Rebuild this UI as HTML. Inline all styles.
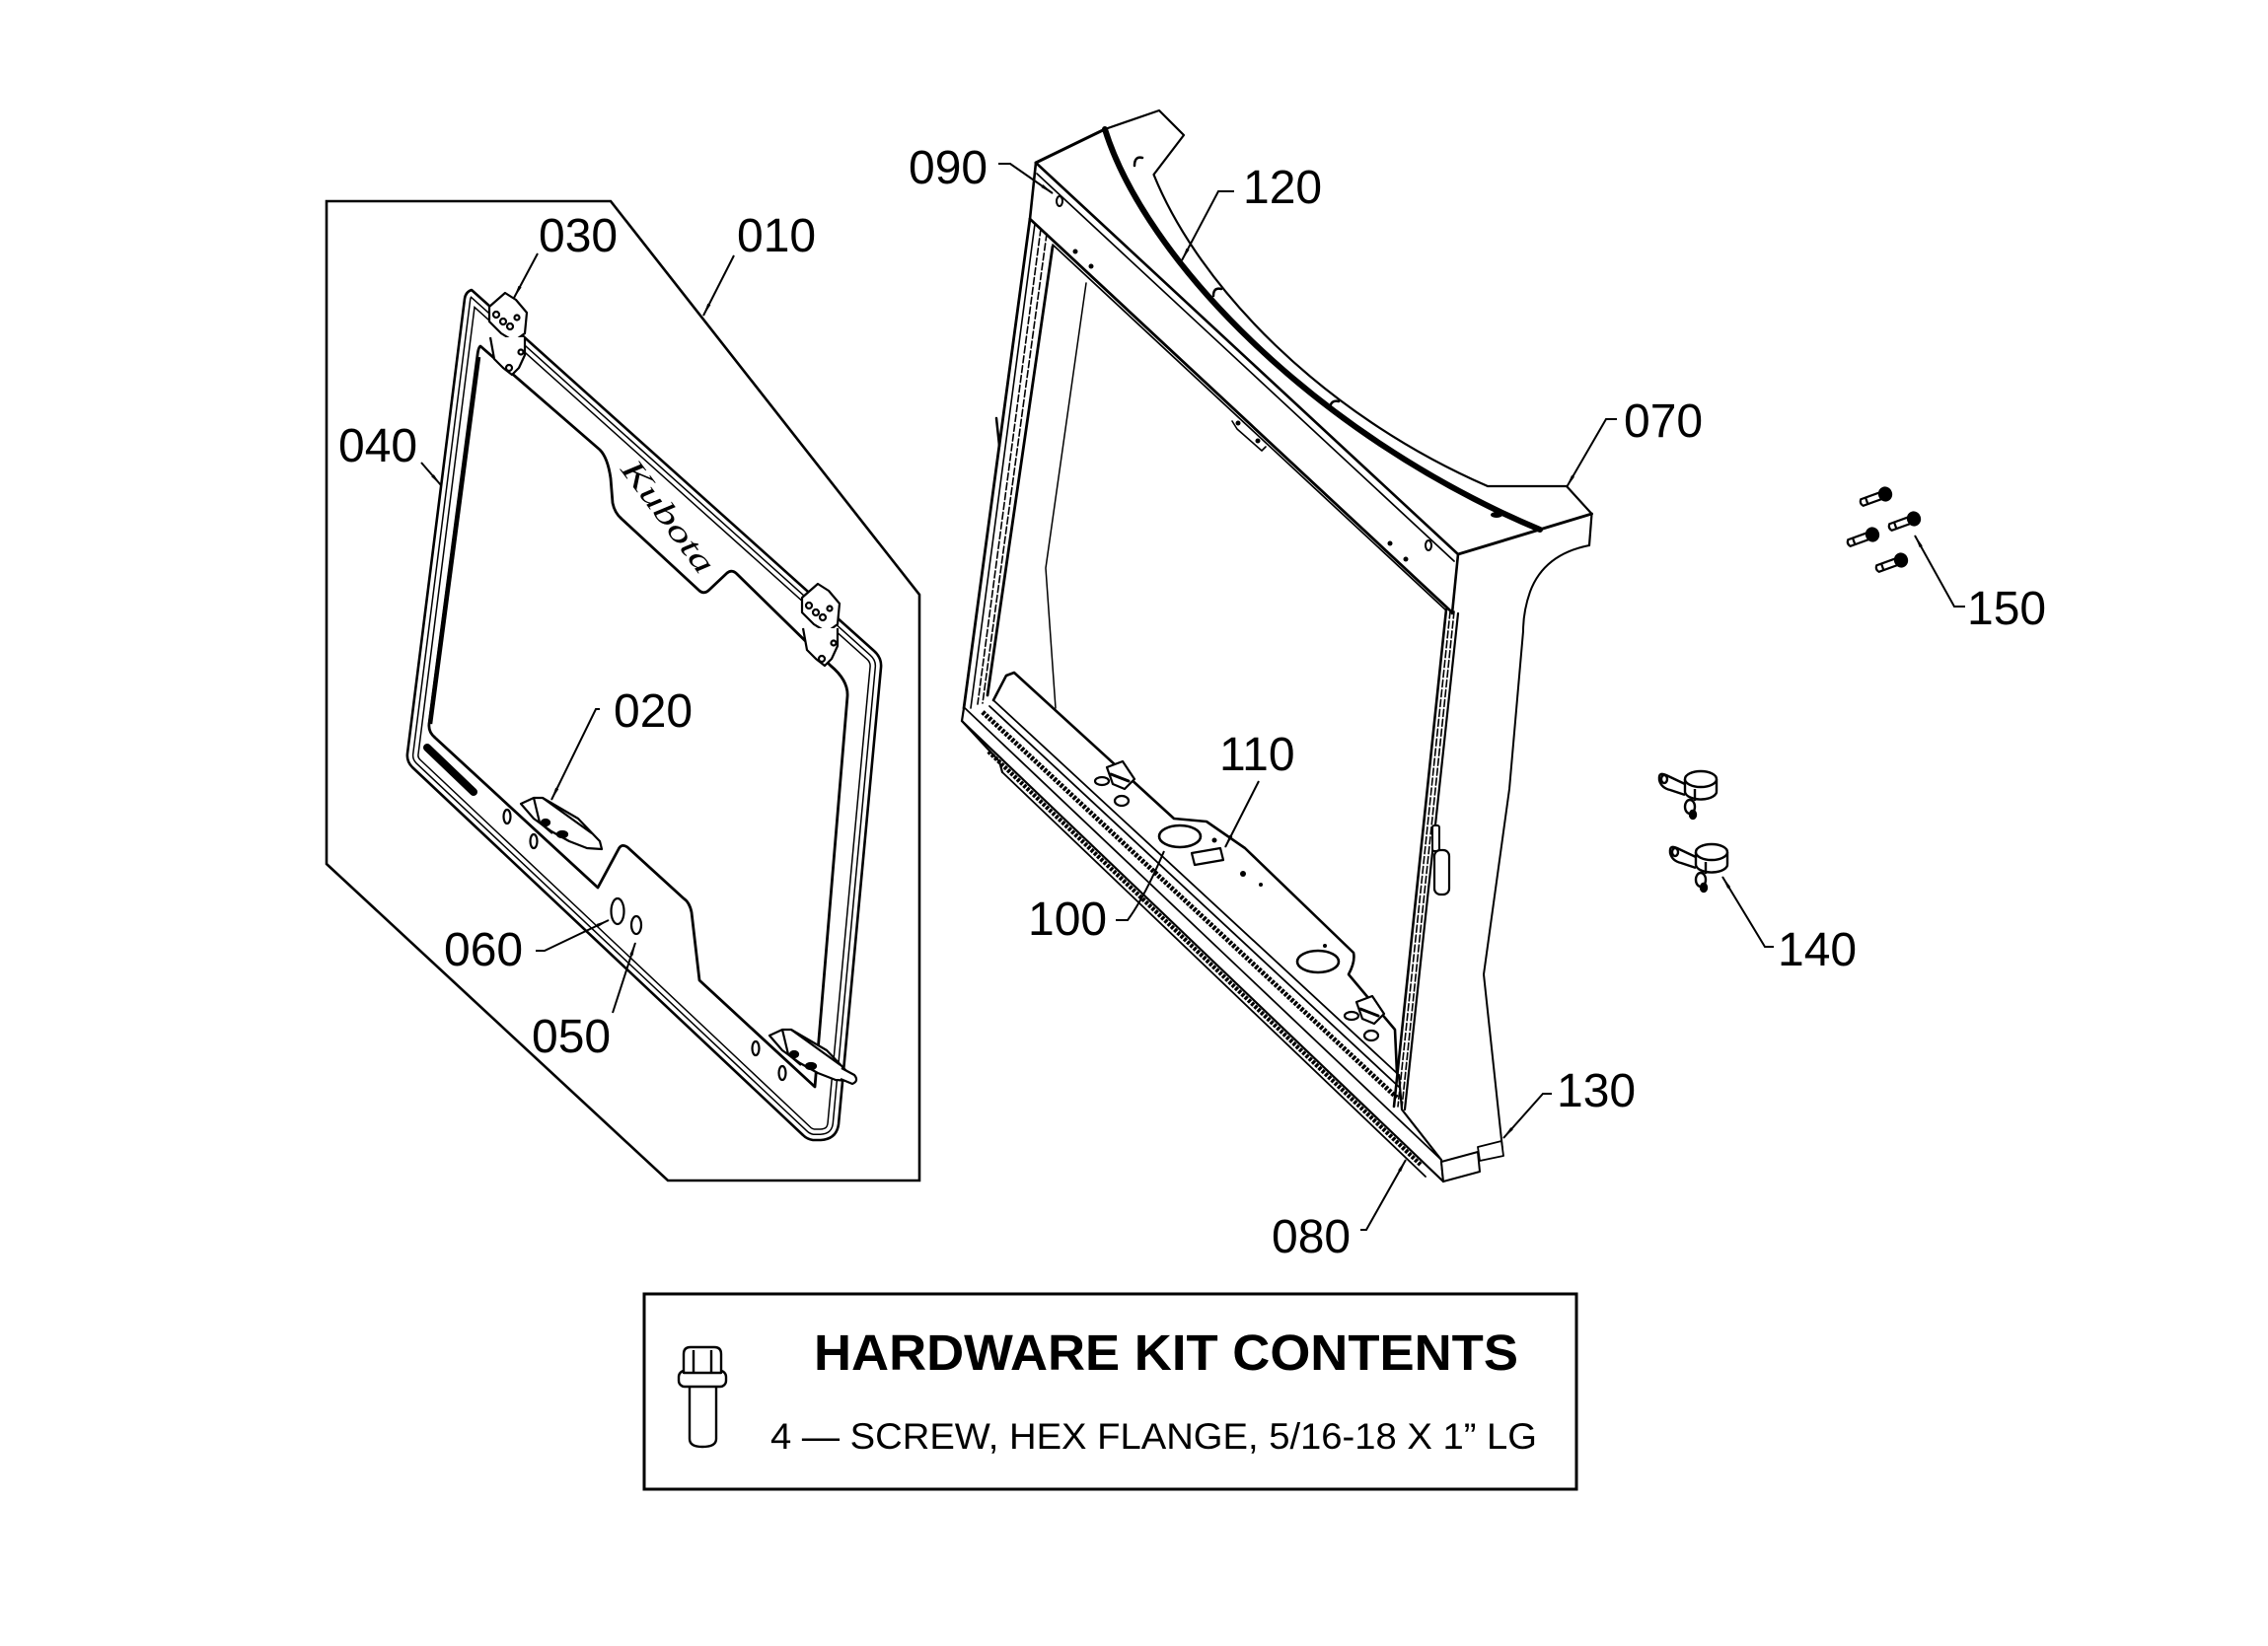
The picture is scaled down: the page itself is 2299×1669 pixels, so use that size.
<!DOCTYPE html>
<html>
<head>
<meta charset="utf-8">
<style>
html,body{margin:0;padding:0;background:#fff;}
svg{display:block;}
text{font-family:"Liberation Sans",Arial,sans-serif;fill:#000;}
</style>
</head>
<body>
<svg width="2299" height="1669" viewBox="0 0 2299 1669" xmlns="http://www.w3.org/2000/svg">
<defs>
<marker id="ar" markerWidth="14" markerHeight="7" refX="13" refY="3.5" orient="auto" markerUnits="userSpaceOnUse">
<path d="M0,1.8 L14,3.5 L0,5.2 Z" fill="#000"/>
</marker>
<clipPath id="fc">
<path d="M478,294 L886,660 Q894,667 893,677 L850,1140 Q848,1155 832,1156 L824,1156 Q818,1155 814,1151 L418,778 Q412,772 413,764 L471,303 Q472,296 478,294 Z"/>
</clipPath>
<g id="hinge">
<path d="M496,311 L512,297 L523,304 L534,317 L532,338 L521,346 L508,338 L496,326 Z" fill="#fff"/>
<circle cx="503" cy="319" r="3"/><circle cx="510" cy="326" r="3"/><circle cx="517" cy="331" r="3"/><circle cx="524" cy="322" r="2.5"/>
<path d="M497,342 L501,364 L510,373 L519,380 L526,373 L532,360 L532,342" fill="#fff"/>
<circle cx="516" cy="373" r="3"/><circle cx="528" cy="357" r="2.5"/>
</g>
<g id="latch">
<path d="M528,815 L541,809 L550,809 L586,830 L608,853 L610,861 L595,860 L577,853 L559,843 L541,830 Z" fill="#fff"/>
<path d="M541,809 L547,834 L560,845 M550,809 L600,845"/>
<ellipse cx="553" cy="834" rx="4" ry="3" fill="#000"/>
<ellipse cx="570" cy="846" rx="5" ry="3" fill="#000"/>
<ellipse cx="514" cy="828" rx="3.5" ry="7"/>
<ellipse cx="541" cy="853" rx="3.5" ry="7"/>
</g>
<g id="screw">
<path d="M-25,-3.5 L-5,-3.5 L-5,3.5 L-25,3.5 Q-28,0 -25,-3.5 Z" fill="#fff"/>
<path d="M-20,-3.5 L-20,3.5"/>
<ellipse cx="0" cy="0" rx="6" ry="6.5" fill="#000"/>
</g>
<g id="clamp">
<path d="M1708,795 L1689,786 Q1681,782 1682,791 Q1684,799 1693,801 L1708,806" fill="#fff"/>
<ellipse cx="1687" cy="790" rx="3" ry="4"/>
<path d="M1708,790 L1708,803 A16,8 0 0,0 1740,802 L1740,790"/>
<ellipse cx="1724" cy="790" rx="16" ry="8" fill="#fff"/>
<path d="M1718,800 L1718,812"/>
<ellipse cx="1713" cy="818" rx="5" ry="7" fill="#fff"/>
<ellipse cx="1716" cy="826" rx="3" ry="4" fill="#000"/>
</g>
</defs>

<rect x="0" y="0" width="2299" height="1669" fill="#fff"/>

<!-- ===== LEFT PANEL (010) ===== -->
<path d="M331,204 L619,204 L932,603 L932,1197 L677,1197 L331,876 Z" fill="none" stroke="#000" stroke-width="2.6"/>

<g clip-path="url(#fc)" fill="none" stroke-linejoin="round">
<path d="M478,294 L886,660 Q894,667 893,677 L850,1140 Q848,1155 832,1156 L824,1156 Q818,1155 814,1151 L418,778 Q412,772 413,764 L471,303 Q472,296 478,294 Z" stroke="#000" stroke-width="23.5"/>
<path d="M478,294 L886,660 Q894,667 893,677 L850,1140 Q848,1155 832,1156 L824,1156 Q818,1155 814,1151 L418,778 Q412,772 413,764 L471,303 Q472,296 478,294 Z" stroke="#fff" stroke-width="20.5"/>
<path d="M478,294 L886,660 Q894,667 893,677 L850,1140 Q848,1155 832,1156 L824,1156 Q818,1155 814,1151 L418,778 Q412,772 413,764 L471,303 Q472,296 478,294 Z" stroke="#000" stroke-width="13"/>
<path d="M478,294 L886,660 Q894,667 893,677 L850,1140 Q848,1155 832,1156 L824,1156 Q818,1155 814,1151 L418,778 Q412,772 413,764 L471,303 Q472,296 478,294 Z" stroke="#fff" stroke-width="10"/>
</g>
<path d="M478,294 L886,660 Q894,667 893,677 L850,1140 Q848,1155 832,1156 L824,1156 Q818,1155 814,1151 L418,778 Q412,772 413,764 L471,303 Q472,296 478,294 Z" fill="none" stroke="#000" stroke-width="2.6" stroke-linejoin="round"/>

<path d="M487,351 L608,456 Q616,464 619,485 L621,510 Q623,520 630,526 L709,599 Q714,603 719,598 L737,581 Q742,577 747,582 L842,675 Q860,690 859,706 L826,1102 L709,994 L701,925 Q699,915 693,911 L636,859 Q630,855 627,861 L606,900 L441,748 Q434,742 435,734 L484,360 Q485,352 487,351 Z" fill="#fff" stroke="#000" stroke-width="2.8" stroke-linejoin="round"/>
<path d="M485,362 L436,734" stroke="#000" stroke-width="4.5" fill="none"/>

<path d="M433,758 L480,803" stroke="#000" stroke-width="8" stroke-linecap="round"/>

<text transform="translate(669,530) rotate(53)" text-anchor="middle" font-style="italic" font-size="32" textLength="135" lengthAdjust="spacingAndGlyphs" style="font-family:'Liberation Serif',serif">Kubota</text>

<g fill="none" stroke="#000" stroke-width="2.2" stroke-linejoin="round">
<use href="#hinge"/>
<use href="#hinge" transform="translate(317,295)"/>
<use href="#latch"/>
<use href="#latch" transform="translate(252,235)"/>
<path d="M853,1083 L866,1090 Q871,1096 864,1099 L852,1094" fill="#fff"/>
</g>

<ellipse cx="626" cy="924" rx="6.5" ry="13" fill="none" stroke="#000" stroke-width="2.2"/>
<ellipse cx="645" cy="938" rx="5" ry="9" fill="none" stroke="#000" stroke-width="2.2"/>

<!-- ===== RIGHT ASSEMBLY ===== -->
<g fill="none" stroke="#000" stroke-linejoin="round" stroke-linecap="round">
<path d="M1050,165 L1120,131" stroke-width="3"/>
<path d="M1120,131 L1175,112 L1200,137 L1169.5,177 C1215,290 1340,420 1508,493 L1588,493 L1613.5,521 L1611,553" stroke-width="2.2"/>
<path d="M1120,131 C1160,260 1330,440 1561,537" stroke-width="6"/>
<path d="M1478,562 L1613.5,521" stroke-width="3"/>
<path d="M1611,553 Q1565,562 1551,600 Q1544,620 1544,640 L1530,800 L1504,988 L1523,1165" stroke-width="2"/>
<path d="M1150,168 Q1150,158 1158,160" stroke-width="2.5"/>
<path d="M1230,300 Q1230,291 1238,293" stroke-width="2.5"/>
<path d="M1348,414 Q1349,405 1357,407" stroke-width="2.5"/>
<ellipse cx="1517" cy="522" rx="6" ry="3" fill="#000" stroke="none"/>

<path d="M1050,165 L1478,562" stroke-width="2.6"/>
<path d="M1051,176 L1474,569" stroke-width="1.7"/>
<path d="M1044,222 L1471,620" stroke-width="2.8"/>
<path d="M1067,248 L1466,619" stroke-width="1.7"/>
<path d="M1050,165 L1044,222" stroke-width="2.6"/>
<path d="M1478,562 L1472,622" stroke-width="2.6"/>
<path d="M1249,427 L1254,435 L1279,457 L1283,453" stroke-width="1.6"/>

<path d="M1044,222 L977,718" stroke-width="2.8"/>
<path d="M1049,227 L984,718" stroke-width="1.6"/>
<path d="M1055,232 L991,714" stroke-width="1.6" stroke-dasharray="7 3"/>
<path d="M1061,237 L996,713" stroke-width="1.6" stroke-dasharray="7 3"/>
<path d="M1067,250 L1001,705" stroke-width="2.8"/>
<path d="M1010,424 L1013,452" stroke-width="2.5"/>

<path d="M1466,618 L1413,1122" stroke-width="2.6"/>
<path d="M1470,620 L1417,1122" stroke-width="1.6" stroke-dasharray="7 3"/>
<path d="M1474,620 L1421,1123" stroke-width="1.6" stroke-dasharray="7 3"/>
<path d="M1478,622 L1424,1125" stroke-width="2.2"/>

<path d="M1101,287 L1060,576 L1070,718" stroke-width="1.5"/>

<rect x="1452" y="837" width="7" height="26" rx="2" stroke-width="2" fill="#fff"/>
<rect x="1454" y="862" width="15" height="45" rx="6" stroke-width="2.2" fill="#fff"/>

<path d="M1007,710 L1020,685 L1028,682 L1190,830 L1223,833 L1262,860 L1372,966 Q1374,975 1367,988 L1414,1044 L1416,1088" stroke-width="2.6"/>
<path d="M1007,710 L1418,1090" stroke-width="1.8"/>
<path d="M1003,716 L1418,1102" stroke-width="1.8"/>
<path d="M996,722 L1416,1113" stroke-width="5" stroke-dasharray="3 1.5" stroke-linecap="butt"/>
<path d="M977,717 L1461,1176" stroke-width="1.8"/>
<path d="M975,731 L1463,1198" stroke-width="2.2"/>
<path d="M1002,762 L1440,1181" stroke-width="4.5" stroke-dasharray="3 1.5" stroke-linecap="butt"/>
<path d="M1016,783 L1445,1193" stroke-width="1.8"/>
<path d="M977,718 L975,731 L1013,772 L1016,783" stroke-width="2.2"/>
<path d="M1418,1090 L1421,1125 L1461,1176 L1463,1198" stroke-width="2.2"/>
<path d="M1461,1178 L1498,1168 L1500,1188 L1463,1198 Z" stroke-width="2" fill="#fff"/>
<path d="M1498,1163 L1522,1157 L1524,1172 L1500,1177 Z" stroke-width="1.8" fill="#fff"/>

<ellipse cx="1196" cy="848" rx="21" ry="11" stroke-width="2.6"/>
<ellipse cx="1336" cy="975" rx="21" ry="11" stroke-width="2.6"/>
<path d="M1208,865 L1237,860 L1240,872 L1211,877 Z" stroke-width="2.2"/>

<g stroke-width="2.2">
<ellipse cx="1117" cy="792" rx="7" ry="4"/>
<path d="M1122,778 L1138,772 L1150,790 L1140,800 L1128,795 Z" fill="#fff"/>
<path d="M1126,785 L1144,792" stroke-width="3"/>
<ellipse cx="1137" cy="812" rx="7" ry="5"/>
<g transform="translate(253,238)">
<ellipse cx="1117" cy="792" rx="7" ry="4"/>
<path d="M1122,778 L1138,772 L1150,790 L1140,800 L1128,795 Z" fill="#fff"/>
<path d="M1126,785 L1144,792" stroke-width="3"/>
<ellipse cx="1137" cy="812" rx="7" ry="5"/>
</g>
</g>
</g>

<g fill="#000">
<circle cx="1090" cy="255" r="2.5"/><circle cx="1106" cy="270" r="2.5"/>
<circle cx="1255" cy="429" r="2.5"/><circle cx="1275" cy="447" r="2.5"/>
<circle cx="1409" cy="551" r="2.5"/><circle cx="1425" cy="567" r="2.5"/>
<circle cx="1231" cy="852" r="2.5"/><circle cx="1260" cy="886" r="3"/>
<circle cx="1278" cy="897" r="2"/><circle cx="1343" cy="959" r="2"/>
</g>
<ellipse cx="1448" cy="553" rx="3" ry="5" fill="none" stroke="#000" stroke-width="2"/>
<ellipse cx="1074" cy="204" rx="3" ry="5" fill="none" stroke="#000" stroke-width="2"/>

<g fill="none" stroke="#000" stroke-width="2.2">
<use href="#screw" transform="translate(1911,501) rotate(-20)"/>
<use href="#screw" transform="translate(1940,526) rotate(-20)"/>
<use href="#screw" transform="translate(1898,542) rotate(-20)"/>
<use href="#screw" transform="translate(1927,568) rotate(-20)"/>
</g>

<g fill="none" stroke="#000" stroke-width="2.4" stroke-linejoin="round">
<use href="#clamp"/>
<use href="#clamp" transform="translate(11,74)"/>
</g>

<!-- ===== LEADERS ===== -->
<g fill="none" stroke="#000" stroke-width="2">
<path d="M545,257 L521,302" marker-end="url(#ar)"/>
<path d="M744,259 L713,320" marker-end="url(#ar)"/>
<path d="M427,469 L447,492" marker-end="url(#ar)"/>
<path d="M608,719 L604,719 L559,811" marker-end="url(#ar)"/>
<path d="M543,964 L552,964 L617,933" marker-end="url(#ar)"/>
<path d="M621,1027 L644,956" marker-end="url(#ar)"/>
<path d="M1012,166 L1024,166 L1067,196" marker-end="url(#ar)"/>
<path d="M1251,194 L1235,194 L1198,264" marker-end="url(#ar)"/>
<path d="M1639,425 L1628,425 L1588,494" marker-end="url(#ar)"/>
<path d="M1992,615 L1981,615 L1941,543" marker-end="url(#ar)"/>
<path d="M1798,960 L1789,960 L1746,889" marker-end="url(#ar)"/>
<path d="M1276,792 L1242,859" marker-end="url(#ar)"/>
<path d="M1131,933 L1143,933 Q1160,910 1180,863"/>
<path d="M1573,1109 L1564,1109 L1524,1154" marker-end="url(#ar)"/>
<path d="M1379,1247 L1385,1247 L1425,1176" marker-end="url(#ar)"/>
</g>

<!-- ===== LABELS ===== -->
<g font-size="48">
<text x="546" y="255">030</text>
<text x="747" y="255">010</text>
<text x="343" y="468">040</text>
<text x="622" y="737">020</text>
<text x="450" y="979">060</text>
<text x="539" y="1067">050</text>
<text x="921" y="186">090</text>
<text x="1260" y="206">120</text>
<text x="1646" y="443">070</text>
<text x="1994" y="633">150</text>
<text x="1802" y="979">140</text>
<text x="1236" y="781">110</text>
<text x="1042" y="948">100</text>
<text x="1578" y="1122">130</text>
<text x="1289" y="1270">080</text>
</g>

<!-- ===== HARDWARE BOX ===== -->
<rect x="653" y="1312" width="945" height="198" fill="none" stroke="#000" stroke-width="3"/>
<text x="825" y="1389" font-size="51" font-weight="bold" textLength="714" lengthAdjust="spacingAndGlyphs">HARDWARE KIT CONTENTS</text>
<text x="781" y="1469" font-size="37" textLength="777" lengthAdjust="spacingAndGlyphs">4 — SCREW, HEX FLANGE, 5/16-18 X 1” LG</text>
<g fill="#fff" stroke="#000" stroke-width="2.4" stroke-linejoin="round">
<path d="M699,1404 L699,1459 Q699,1467 712,1467 Q726,1467 726,1459 L726,1404"/>
<rect x="688" y="1390" width="48" height="16" rx="6"/>
<path d="M693,1392 L693,1373 Q693,1366 700,1366 L724,1366 Q731,1366 731,1373 L731,1392 Z"/>
<path d="M703,1369 L703,1392 M721,1369 L721,1392" fill="none"/>
</g>
</svg>
</body>
</html>
